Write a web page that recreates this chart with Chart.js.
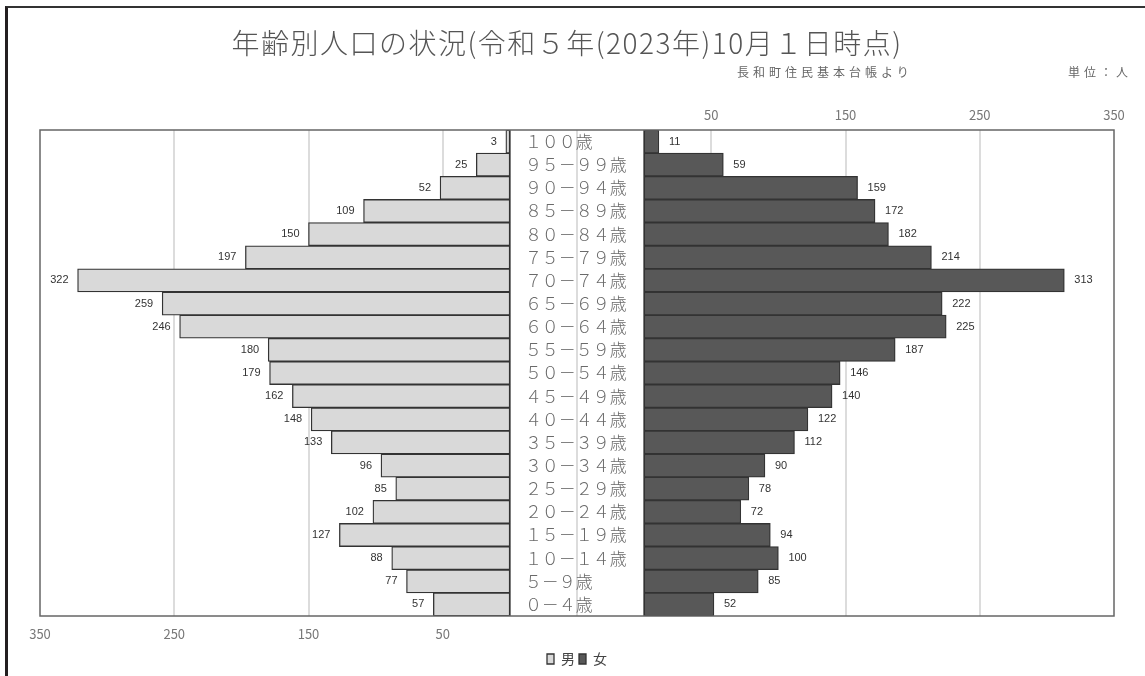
<!DOCTYPE html>
<html lang="ja">
<head>
<meta charset="utf-8">
<title>年齢別人口の状況</title>
<script src="https://cdn.jsdelivr.net/npm/chart.js@4.4.1/dist/chart.umd.min.js"></script>
<style>
  html, body { margin: 0; padding: 0; background: #fff; }
  #wrap { position: relative; width: 1145px; height: 676px; overflow: hidden; }
  #pageFrame { position: absolute; left: 5px; top: 6px; width: 1200px; height: 700px;
    border-left: 3px solid #231f20; border-top: 2px solid #333; }
  #chart { position: absolute; left: 0; top: 0; }
  .title { position: absolute; left: 0; width: 1134px; top: 28px; text-align: center;
    font: 300 28px "Noto Sans CJK JP"; letter-spacing: 1.5px; color: #555; line-height: 1; white-space: nowrap; }
  .note { position: absolute; top: 66px; font: 12px "Noto Sans CJK JP"; letter-spacing: 4px;
    color: #666; line-height: 1; white-space: nowrap; }
</style>
</head>
<body>
<div id="wrap">
  <div id="pageFrame"></div>
  <canvas id="chart" width="1145" height="676"></canvas>
  <div class="title">年齢別人口の状況(令和５年(2023年)10月１日時点)</div>
  <div class="note" style="left:737px;">長和町住民基本台帳より</div>
  <div class="note" style="left:1068px;">単位：人</div>
</div>
<script>
// 年齢区分（上が高齢）
const ageLabels = [
  "１００歳", "９５－９９歳", "９０－９４歳", "８５－８９歳", "８０－８４歳",
  "７５－７９歳", "７０－７４歳", "６５－６９歳", "６０－６４歳", "５５－５９歳",
  "５０－５４歳", "４５－４９歳", "４０－４４歳", "３５－３９歳", "３０－３４歳",
  "２５－２９歳", "２０－２４歳", "１５－１９歳", "１０－１４歳", "５－９歳", "０－４歳"
];
const male = [3, 25, 52, 109, 150, 197, 322, 259, 246, 180, 179, 162, 148, 133, 96, 85, 102, 127, 88, 77, 57];
const female = [11, 59, 159, 172, 182, 214, 313, 222, 225, 187, 146, 140, 122, 112, 90, 78, 72, 94, 100, 85, 52];
const scaleTicks = [50, 150, 250, 350];

// 中央の年齢欄の半幅（人数の単位）
const GAP = 50;
const tickPositions = [...scaleTicks.map(t => -(t + GAP)).reverse(), 0, ...scaleTicks.map(t => t + GAP)];
const axisMax = scaleTicks[scaleTicks.length - 1] + GAP;

Chart.defaults.font.family = "'Noto Sans CJK JP', 'Noto Sans', sans-serif";

const pyramidDecor = {
  id: "pyramidDecor",
  afterDatasetsDraw(chart) {
    const { ctx, chartArea: a, scales: { x, y } } = chart;
    ctx.save();

    ctx.strokeStyle = "#333";
    ctx.lineWidth = 1.5;
    [-GAP, GAP].forEach((v) => {
      const px = x.getPixelForValue(v);
      ctx.beginPath();
      ctx.moveTo(px, a.top);
      ctx.lineTo(px, a.bottom);
      ctx.stroke();
    });

    ctx.strokeStyle = "#666";
    ctx.strokeRect(a.left, a.top, a.right - a.left, a.bottom - a.top);

    ctx.font = '300 17px "Noto Sans CJK JP"';
    ctx.fillStyle = "#6a6a6a";
    ctx.textAlign = "left";
    ctx.textBaseline = "middle";
    ageLabels.forEach((t, i) => ctx.fillText(t, x.getPixelForValue(-GAP) + 15, y.getPixelForValue(i)));

    ctx.font = '11px "Liberation Sans"';
    ctx.fillStyle = "#333";
    ctx.textAlign = "right";
    chart.getDatasetMeta(0).data.forEach((bar, i) => ctx.fillText(male[i], bar.x - 9, bar.y));
    ctx.textAlign = "left";
    chart.getDatasetMeta(1).data.forEach((bar, i) => ctx.fillText(female[i], bar.x + 10, bar.y));

    ctx.restore();
  }
};

const barStyle = {
  borderColor: "#333",
  borderWidth: 1.3,
  borderSkipped: false,
  grouped: false,
  barPercentage: 1,
  categoryPercentage: 1
};

new Chart(document.getElementById("chart"), {
  type: "bar",
  data: {
    labels: ageLabels,
    datasets: [
      { label: "男", data: male.map(v => [-GAP, -GAP - v]), backgroundColor: "#d9d9d9", ...barStyle },
      { label: "女", data: female.map(v => [GAP, GAP + v]), backgroundColor: "#585858", ...barStyle }
    ]
  },
  options: {
    indexAxis: "y",
    responsive: false,
    animation: false,
    devicePixelRatio: 1,
    layout: { padding: { left: 40, right: 31, top: 100.4, bottom: 0 } },
    scales: {
      x: {
        type: "linear",
        position: "bottom",
        min: -axisMax,
        max: axisMax,
        afterBuildTicks: (axis) => { axis.ticks = tickPositions.map(v => ({ value: v })); },
        afterFit: (axis) => { axis.height = 32; },
        grid: {
          color: (c) => Math.abs(c.tick.value) === axisMax ? "rgba(0,0,0,0)" : "#dcdcdc",
          lineWidth: 2,
          drawTicks: false
        },
        border: { display: false },
        ticks: {
          autoSkip: false,
          maxRotation: 0,
          padding: 10,
          color: "#777",
          font: { size: 13 },
          callback: (v) => v < 0 ? String(-v - GAP) : ""
        }
      },
      x2: {
        type: "linear",
        position: "top",
        min: -axisMax,
        max: axisMax,
        afterBuildTicks: (axis) => { axis.ticks = tickPositions.map(v => ({ value: v })); },
        grid: { display: false, drawTicks: false },
        border: { display: false },
        ticks: {
          autoSkip: false,
          maxRotation: 0,
          padding: 7,
          color: "#777",
          font: { size: 13 },
          callback: (v) => v > 0 ? String(v - GAP) : ""
        }
      },
      y: { display: false }
    },
    plugins: {
      legend: {
        position: "bottom",
        labels: {
          boxWidth: 7,
          boxHeight: 10,
          padding: 4,
          color: "#444",
          font: { size: 14 }
        }
      },
      tooltip: { enabled: false }
    }
  },
  plugins: [pyramidDecor]
});
</script>
</body>
</html>
